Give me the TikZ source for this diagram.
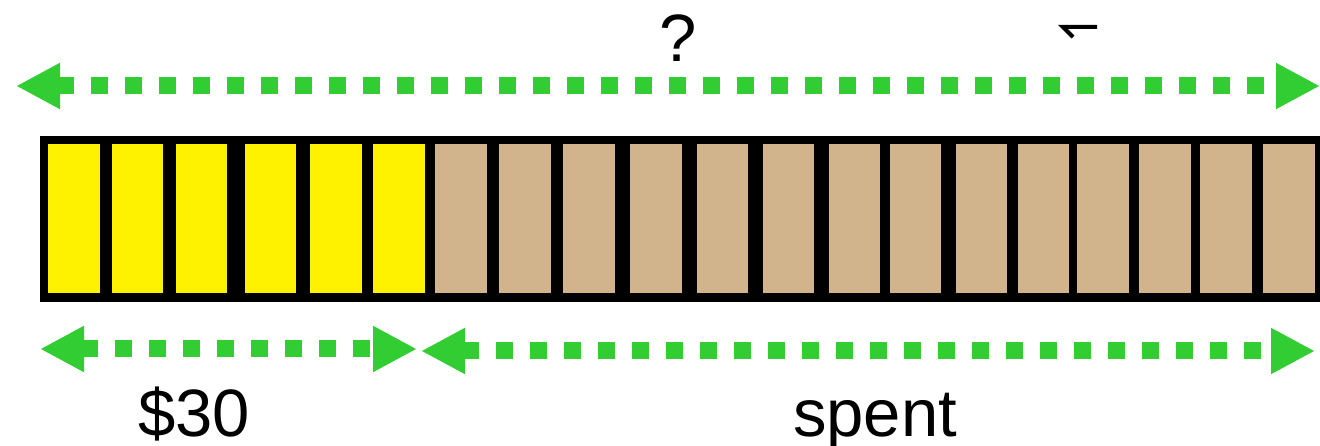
\documentclass[tikz,border=0pt]{standalone}
\usepackage{fontspec}
\setmainfont{Liberation Sans}
\usetikzlibrary{arrows.meta}
\definecolor{barlime}{RGB}{50,205,50}
\definecolor{bartan}{RGB}{210,180,140}

\begin{document}
\begin{tikzpicture}
[every node/.style={inner sep=0pt},
 cell/.style={rectangle, minimum width=51.5pt, minimum height=149pt, draw=none},
 span/.style={line width=17pt, color=barlime, dash pattern=on 16.5pt off 17.5pt, {Triangle[length=44pt, width=43pt]}-{Triangle[length=44pt, width=43pt]}},
 lbl/.style={anchor=base, font=\fontsize{67pt}{67pt}\selectfont}]
\useasboundingbox (0pt,0pt) rectangle (1320pt,446pt);
\node (bar) [rectangle, fill=black, minimum width=1290pt, minimum height=166pt] at (685pt, 227pt) {};
\node (c1) [cell, fill=yellow] at (73.8pt, 227.5pt) {};
\node (c2) [cell, fill=yellow] at (137.7pt, 227.5pt) {};
\node (c3) [cell, fill=yellow] at (201.6pt, 227.5pt) {};
\node (c4) [cell, fill=yellow] at (270.5pt, 227.5pt) {};
\node (c5) [cell, fill=yellow] at (335.9pt, 227.5pt) {};
\node (c6) [cell, fill=yellow] at (398.8pt, 227.5pt) {};
\node (c7) [cell, fill=bartan] at (461.2pt, 227.5pt) {};
\node (c8) [cell, fill=bartan] at (525.1pt, 227.5pt) {};
\node (c9) [cell, fill=bartan] at (589.0pt, 227.5pt) {};
\node (c10) [cell, fill=bartan] at (655.9pt, 227.5pt) {};
\node (c11) [cell, fill=bartan] at (722.3pt, 227.5pt) {};
\node (c12) [cell, fill=bartan] at (788.7pt, 227.5pt) {};
\node (c13) [cell, fill=bartan] at (854.6pt, 227.5pt) {};
\node (c14) [cell, fill=bartan] at (915.5pt, 227.5pt) {};
\node (c15) [cell, fill=bartan] at (981.4pt, 227.5pt) {};
\node (c16) [cell, fill=bartan] at (1043.3pt, 227.5pt) {};
\node (c17) [cell, fill=bartan] at (1103.2pt, 227.5pt) {};
\node (c18) [cell, fill=bartan] at (1165.1pt, 227.5pt) {};
\node (c19) [cell, fill=bartan] at (1226.0pt, 227.5pt) {};
\node (c20) [cell, fill=bartan] at (1289.0pt, 227.5pt) {};
\coordinate (top1) at (16pt, 360pt);
\coordinate (top2) at (1320pt, 360pt);
\coordinate (left1) at (40pt, 97pt);
\coordinate (left2) at (417pt, 97pt);
\coordinate (right1) at (421pt, 95pt);
\coordinate (right2) at (1315pt, 95pt);
\draw [span] (top1) -- (top2);
\draw [span] (left1) -- (left2);
\draw [span] (right1) -- (right2);
\node (total) [lbl] at (678pt, 384pt) {?};
\node (kept) [lbl] at (194pt, 9pt) {\$30};
\node (spent) [lbl] at (875pt, 9pt) {spent};
\draw [line width=4pt, color=black] (1073pt, 409pt) -- (1063pt, 419pt) -- (1097pt, 419pt);
\end{tikzpicture}
\end{document}
